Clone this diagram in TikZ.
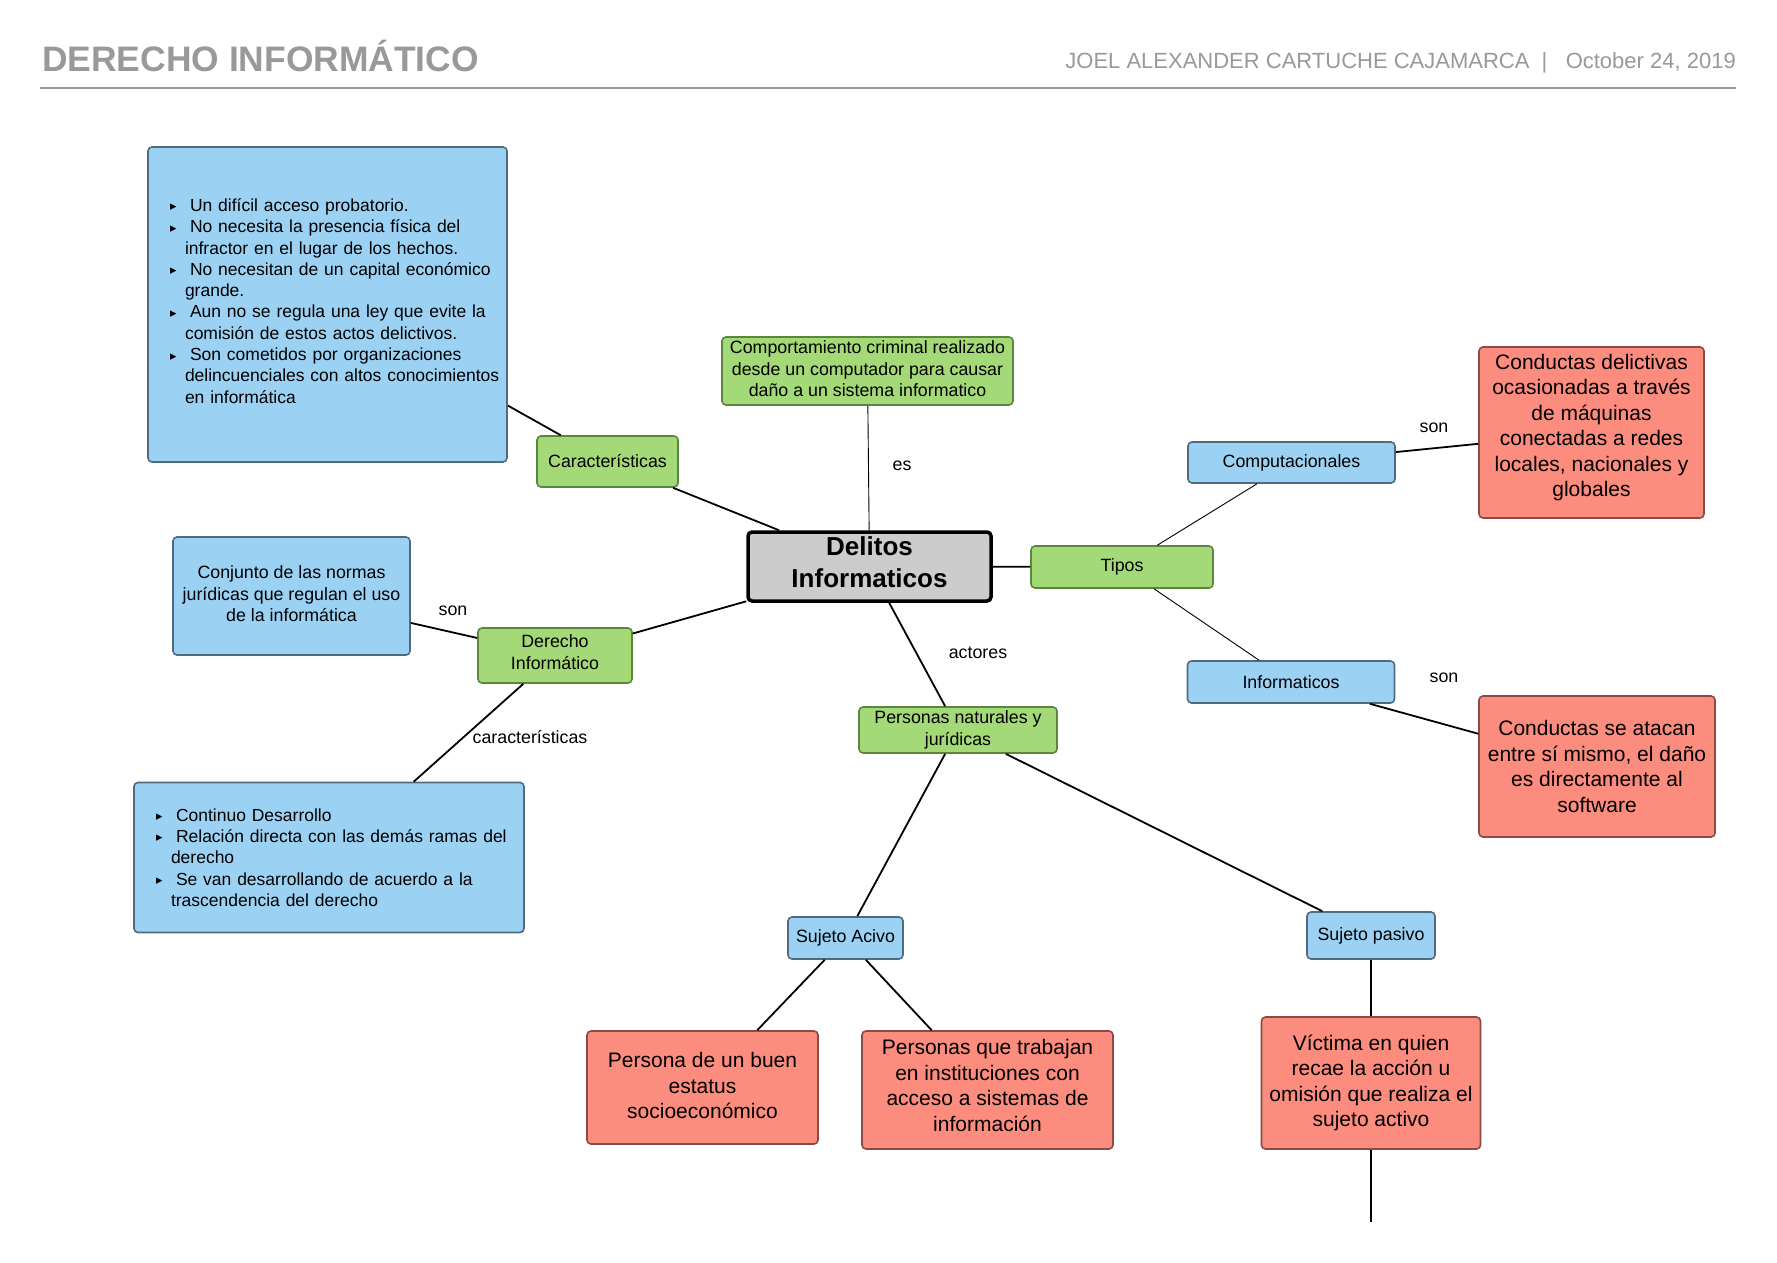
\documentclass[tikz,border=0pt]{standalone}
\usepackage{amsthm,amsmath, amssymb}
\usepackage{fontspec}
\usepackage{tikz}
\setmainfont{Liberation Sans}
\newfontfamily\bulfont{DejaVu Sans}

\definecolor{headGray}{RGB}{153,153,153}
\definecolor{blueFill}{RGB}{155,210,243}
\definecolor{blueLine}{RGB}{80,106,128}
\definecolor{greenFill}{RGB}{164,217,119}
\definecolor{greenLine}{RGB}{90,135,60}
\definecolor{redFill}{RGB}{252,140,125}
\definecolor{redLine}{RGB}{140,74,66}
\definecolor{centerGray}{RGB}{204,204,204}

\newcommand{\itm}[1]{\mbox{\hspace*{15pt}\makebox[20pt][l]{\raisebox{0.5pt}{\bulfont\fontsize{13}{13}\selectfont ▸}}#1}}
\newcommand{\cnt}[1]{\mbox{\hspace*{30pt}#1}}

\tikzset{
	mapbox/.style={draw, rounded corners=4pt, line width=1.6pt, align=center, inner sep=0pt, font=\fontsize{17.8}{21.5}\selectfont},
	bluebox/.style={mapbox, fill=blueFill, draw=blueLine},
	greenbox/.style={mapbox, fill=greenFill, draw=greenLine},
	redbox/.style={mapbox, fill=redFill, draw=redLine, font=\fontsize{21}{25.5}\selectfont},
	listbox/.style={bluebox, align=left, inner xsep=7pt, font=\fontsize{17.5}{21.3}\selectfont},
	link/.style={line width=1.8pt},
	thinlink/.style={line width=0.9pt},
	lbl/.style={font=\fontsize{17.8}{21.5}\selectfont, inner sep=0pt}
}

\begin{document}
\begin{tikzpicture}[x=1pt, y=-1pt]
	\fill [white] (0,0) rectangle (1777,1263);
	\useasboundingbox (0,0) rectangle (1777,1263);
	\node [anchor=base west, inner sep=0pt, text=headGray, font=\bfseries\fontsize{35.4}{42}\selectfont] (title) at (42,71) {DERECHO INFORMÁTICO};
	\node [anchor=base east, inner sep=0pt, text=headGray, font=\fontsize{22}{26}\selectfont] (author) at (1736,68) {JOEL ALEXANDER CARTUCHE CAJAMARCA\ \ |\ \ \ October 24, 2019};
	\draw [headGray, line width=2pt] (40,88) -- (1736,88);

	\node [mapbox, fill=centerGray, draw=black, line width=3.5pt, font=\bfseries\fontsize{26}{32}\selectfont, text depth=9pt, minimum width=243pt, minimum height=69pt] (delitos) at (869.5,566.5) {Delitos\\Informaticos};
	\node [greenbox, text depth=4pt, minimum width=291pt, minimum height=68pt] (comp) at (867.5,371) {Comportamiento criminal realizado\\desde un computador para causar\\daño a un sistema informatico};
	\node [greenbox, minimum width=141pt, minimum height=51pt] (car) at (607.5,461.5) {Características};
	\node [listbox, text depth=199pt, text width=345pt, minimum width=359pt, minimum height=315pt] (carlist) at (327.5,304.5) {\itm{Un difícil acceso probatorio.}\\\itm{No necesita la presencia física del}\\\cnt{infractor en el lugar de los hechos.}\\\itm{No necesitan de un capital económico}\\\cnt{grande.}\\\itm{Aun no se regula una ley que evite la}\\\cnt{comisión de estos actos delictivos.}\\\itm{Son cometidos por organizaciones}\\\cnt{delincuenciales con altos conocimientos}\\\cnt{en informática}};
	\node [greenbox, minimum width=182pt, minimum height=42pt] (tipos) at (1122,567) {Tipos};
	\node [bluebox, minimum width=207pt, minimum height=41pt] (comput) at (1291.5,462.5) {Computacionales};
	\node [bluebox, minimum width=207pt, minimum height=42pt] (inform) at (1291,682) {Informaticos};
	\node [redbox, text depth=14pt, minimum width=225pt, minimum height=171pt] (cond1) at (1591.5,432.5) {Conductas delictivas\\ocasionadas a través\\de máquinas\\conectadas a redes\\locales, nacionales y\\globales};
	\node [redbox, minimum width=236pt, minimum height=141pt] (cond2) at (1597,766.5) {Conductas se atacan\\entre sí mismo, el daño\\es directamente al\\software};
	\node [greenbox, text depth=7pt, minimum width=154pt, minimum height=55pt] (derecho) at (555,655.5) {Derecho\\Informático};
	\node [bluebox, text depth=4pt, minimum width=237pt, minimum height=118pt] (defin) at (291.5,596) {Conjunto de las normas\\jurídicas que regulan el uso\\de la informática};
	\node [listbox, text width=376pt, minimum width=390pt, minimum height=150pt] (carlist2) at (329,857.5) {\itm{Continuo Desarrollo}\\\itm{Relación directa con las demás ramas del}\\\cnt{derecho}\\\itm{Se van desarrollando de acuerdo a la}\\\cnt{trascendencia del derecho}};
	\node [greenbox, minimum width=198pt, minimum height=46pt] (personas) at (958,730) {Personas naturales y\\jurídicas};
	\node [bluebox, minimum width=115pt, minimum height=42pt] (sactivo) at (845.5,938) {Sujeto Acivo};
	\node [bluebox, minimum width=128pt, minimum height=47pt] (spasivo) at (1371,935.5) {Sujeto pasivo};
	\node [redbox, text depth=4pt, minimum width=231pt, minimum height=113pt] (buen) at (702.5,1087.5) {Persona de un buen\\estatus\\socioeconómico};
	\node [redbox, text depth=9pt, minimum width=251pt, minimum height=118pt] (trabajan) at (987.5,1090) {Personas que trabajan\\en instituciones con\\acceso a sistemas de\\información};
	\node [redbox, minimum width=219pt, minimum height=132pt] (victima) at (1371,1083) {Víctima en quien\\recae la acción u\\omisión que realiza el\\sujeto activo};
	\coordinate (tail) at (1371,1222);

	\node [lbl] (es) at (902,466) {es};
	\node [lbl] (son1) at (1434,428) {son};
	\node [lbl] (son2) at (1444,678) {son};
	\node [lbl] (actores) at (978,653) {actores};
	\node [lbl] (son3) at (453,611) {son};
	\node [lbl] (caract) at (530,737) {características};

	\draw [thinlink] (comp) -- (delitos);
	\draw [link] (carlist) -- (car);
	\draw [link] (car) -- (delitos);
	\draw [link] (delitos) -- (tipos);
	\draw [thinlink] (tipos) -- (comput);
	\draw [thinlink] (tipos) -- (inform);
	\draw [link] (comput) -- (cond1);
	\draw [link] (inform) -- (cond2);
	\draw [link] (derecho) -- (delitos);
	\draw [link] (defin) -- (derecho);
	\draw [link] (derecho) -- (carlist2);
	\draw [link] (delitos) -- (personas);
	\draw [link] (personas) -- (sactivo);
	\draw [link] (personas) -- (spasivo);
	\draw [link] (sactivo) -- (buen);
	\draw [link] (sactivo) -- (trabajan);
	\draw [link] (spasivo) -- (victima);
	\draw [link] (victima) -- (tail);
\end{tikzpicture}
\end{document}
